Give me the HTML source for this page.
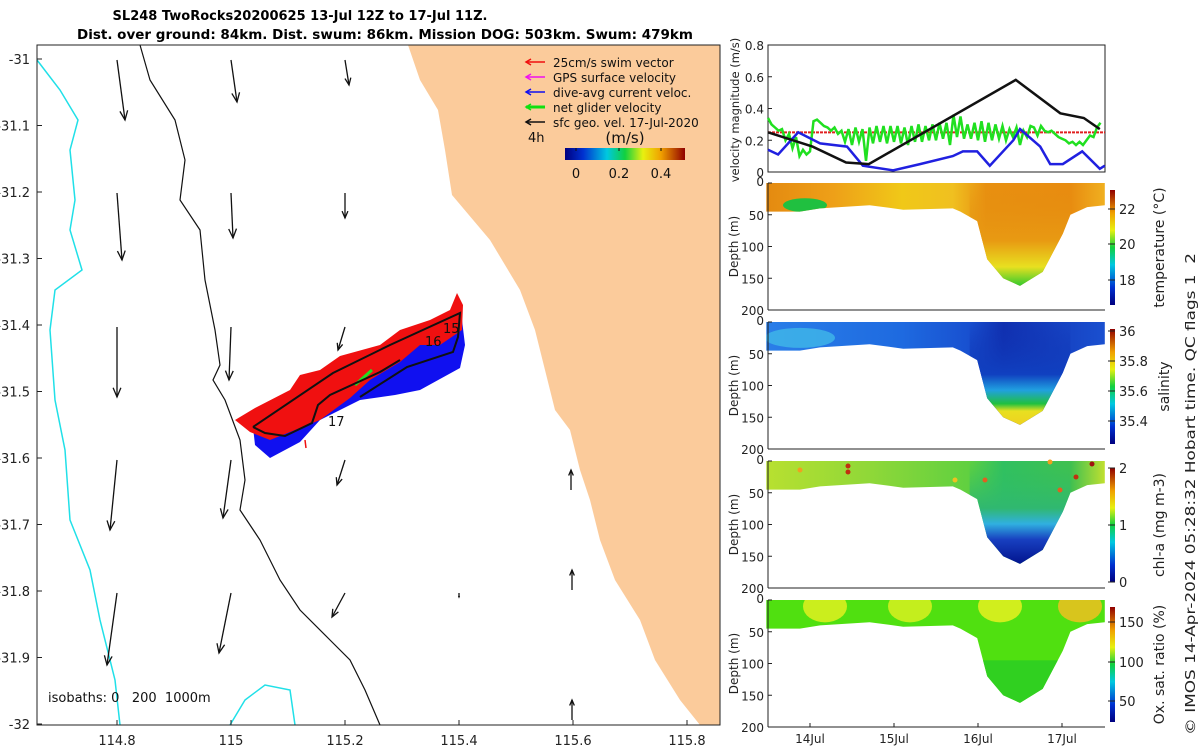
<!DOCTYPE html>
<html><head><meta charset="utf-8"><style>
html,body{margin:0;padding:0;background:#fff;}
svg{display:block;font-family:"DejaVu Sans","Liberation Sans",sans-serif;}
</style></head><body>
<svg id="s" width="1200" height="750" viewBox="0 0 1200 750" xmlns="http://www.w3.org/2000/svg">
<defs>
<linearGradient id="jet" x1="0" x2="1" y1="0" y2="0">
<stop offset="0" stop-color="#00007f"/><stop offset="0.15" stop-color="#0030d0"/><stop offset="0.35" stop-color="#00c8e0"/><stop offset="0.5" stop-color="#10d040"/><stop offset="0.65" stop-color="#e8f010"/><stop offset="0.8" stop-color="#f0a000"/><stop offset="1" stop-color="#900000"/></linearGradient>
<linearGradient id="jetv" x1="0" x2="0" y1="1" y2="0">
<stop offset="0" stop-color="#00007f"/><stop offset="0.15" stop-color="#0030d0"/><stop offset="0.35" stop-color="#00c8e0"/><stop offset="0.5" stop-color="#10d040"/><stop offset="0.65" stop-color="#e8f010"/><stop offset="0.8" stop-color="#f0a000"/><stop offset="1" stop-color="#900000"/></linearGradient>
<linearGradient id="tBand" x1="0" x2="1"><stop offset="0" stop-color="#e48a10"/><stop offset="0.2" stop-color="#eea018"/><stop offset="0.4" stop-color="#f0c818"/><stop offset="0.55" stop-color="#f0c020"/><stop offset="0.65" stop-color="#e89010"/><stop offset="0.9" stop-color="#e88c10"/><stop offset="1" stop-color="#f0b020"/></linearGradient>
<linearGradient id="tTr" x1="0" x2="0" y1="0" y2="1"><stop offset="0" stop-color="#e48a10" stop-opacity="0"/><stop offset="0.55" stop-color="#e89a12"/><stop offset="0.8" stop-color="#e8e020"/><stop offset="1" stop-color="#20c830"/></linearGradient>
<linearGradient id="sBand" x1="0" x2="1"><stop offset="0" stop-color="#2a7ee8"/><stop offset="0.4" stop-color="#1e6ae0"/><stop offset="0.6" stop-color="#1850d0"/><stop offset="0.7" stop-color="#1030b0"/><stop offset="1" stop-color="#1a50d0"/></linearGradient>
<linearGradient id="sTr" x1="0" x2="0" y1="0" y2="1"><stop offset="0" stop-color="#1030b0" stop-opacity="0"/><stop offset="0.5" stop-color="#1040c0"/><stop offset="0.65" stop-color="#20a0e0"/><stop offset="0.78" stop-color="#20c040"/><stop offset="0.85" stop-color="#e8e020"/><stop offset="1" stop-color="#f0d020"/></linearGradient>
<linearGradient id="cBand" x1="0" x2="1"><stop offset="0" stop-color="#b8e030"/><stop offset="0.3" stop-color="#90d838"/><stop offset="0.6" stop-color="#60d040"/><stop offset="0.7" stop-color="#30c060"/><stop offset="0.9" stop-color="#40c050"/><stop offset="1" stop-color="#c0e030"/></linearGradient>
<linearGradient id="cTr" x1="0" x2="0" y1="0" y2="1"><stop offset="0" stop-color="#30c060" stop-opacity="0"/><stop offset="0.45" stop-color="#30b870"/><stop offset="0.6" stop-color="#30b0e0"/><stop offset="0.75" stop-color="#1840c0"/><stop offset="1" stop-color="#00108a"/></linearGradient>
</defs>
<g id="map"></g>
<g id="vel"></g>
<g id="sec"></g>
<text x="300" y="20" text-anchor="middle" font-size="13" font-weight="bold">SL248 TwoRocks20200625 13-Jul 12Z to 17-Jul 11Z.</text>
<text x="77" y="39" font-size="13" font-weight="bold" textLength="616" lengthAdjust="spacingAndGlyphs">Dist. over ground: 84km. Dist. swum: 86km. Mission DOG: 503km. Swum: 479km</text>
<text transform="translate(1195,735) rotate(-90)" font-size="13" fill="#222" textLength="482" lengthAdjust="spacingAndGlyphs" style="white-space:pre">© IMOS 14-Apr-2024 05:28:32 Hobart time. QC flags 1  2</text>
</svg>
<script>
// ---- data ----
const velBlackDays=[13.5,14.03,14.43,14.7,16.45,16.98,17.26,17.45];
const velBlack=[0.25,0.16,0.06,0.05,0.58,0.37,0.34,0.27];
const velBlueDays=[13.5,13.62,13.86,14.12,14.44,14.63,14.99,15.31,15.7,15.82,15.99,16.14,16.42,16.5,16.74,16.86,17.01,17.24,17.45,17.51];
const velBlue=[0.14,0.11,0.25,0.18,0.16,0.04,0.01,0.05,0.1,0.13,0.13,0.04,0.2,0.27,0.16,0.05,0.05,0.13,0.02,0.04];
const velGreen=[0.34,0.30,0.28,0.26,0.27,0.20,0.24,0.15,0.22,0.10,0.14,0.11,0.13,
0.32,0.33,0.31,0.29,0.28,0.26,0.28,0.24,
0.26,0.19,0.27,0.17,0.28,0.19,0.27,0.07,0.28,0.18,0.29,0.19,0.29,0.18,0.29,0.19,0.29,0.18,0.28,0.17,0.29,0.19,0.30,0.19,0.29,0.20,0.30,0.20,0.31,0.21,0.31,0.17,0.36,0.22,0.35,0.21,
0.30,0.21,0.31,0.20,0.32,0.19,0.31,0.20,0.30,0.21,0.29,0.20,0.27,0.22,0.28,0.17,0.26,0.22,0.29,
0.28,0.23,0.29,0.26,0.25,0.26,0.24,0.22,0.21,0.20,0.18,0.19,0.17,0.19,0.17,0.20,0.23,0.22,0.28,0.31];
const swimSpeed=0.25;
const velTicks=[0,0.2,0.4,0.6,0.8];
const dayTicks=[14,15,16,17];
const dayLabels=["14Jul","15Jul","16Jul","17Jul"];
const depthTicks=[0,50,100,150,200];
const profDays=[13.48,13.88,14.12,14.71,15.11,15.7,15.79,15.99,16.11,16.3,16.5,16.77,17.01,17.1,17.3,17.51];
const profDepth=[45,45,40,35,42,40,45,60,120,150,162,140,80,50,38,35];
const lonTicks=[114.8,115,115.2,115.4,115.6,115.8];
const latTicks=[-31,-31.1,-31.2,-31.3,-31.4,-31.5,-31.6,-31.7,-31.8,-31.9,-32];

const NS="http://www.w3.org/2000/svg";
function mk(p,tag,at,txt){const e=document.createElementNS(NS,tag);for(const k in at)e.setAttribute(k,at[k]);if(txt!==undefined)e.textContent=txt;p.appendChild(e);return e;}
const X0=768,X1=1105;
const dx=d=>810+(d-14)*84;

// ---- velocity panel ----
const vel=document.getElementById('vel');
const vy=v=>172-v*(127/0.8);
let r=mk(vel,'rect',{x:X0,y:45,width:X1-X0,height:127,fill:'#fff',stroke:'#222','stroke-width':1});


velTicks.forEach(v=>{
  let t=mk(vel,'text',{x:X0-4,y:vy(v)+5,'text-anchor':'end','font-size':12,fill:'#222'},String(v));
  
  
  mk(vel,'line',{x1:X0,x2:X0+4,y1:vy(v),y2:vy(v),stroke:'#222'});
});
let vt=mk(vel,'text',{transform:'translate(739,110) rotate(-90)','text-anchor':'middle','font-size':11.5,fill:'#222'},'velocity magnitude (m/s)');


let rl=mk(vel,'line',{x1:X0,x2:X1,y1:vy(swimSpeed),y2:vy(swimSpeed),stroke:'#e02020','stroke-width':2,'stroke-dasharray':'3 1'});


function pl(days,vals,col,name,w){
  const pts=days.map((d,i)=>dx(d).toFixed(1)+','+vy(vals[i]).toFixed(1)).join(' ');
  const e=mk(vel,'polyline',{points:pts,fill:'none',stroke:col,'stroke-width':w});
  
  
}
const greenDays=velGreen.map((v,i)=>13.5+i/24);
pl(greenDays,velGreen,'#20e020','net-glider-velocity-line',2.5);
pl(velBlueDays,velBlue,'#2020e0','dive-avg-current-line',2.5);
pl(velBlackDays,velBlack,'#111','sfc-geo-velocity-line',2.5);

// ---- sections ----
const sec=document.getElementById('sec');
const panels=[
 {top:183,band:'tBand',tr:'tTr',name:'temperature',label:'temperature (°C)',cb:[190,305],ticks:[['22',209],['20',244],['18',280]]},
 {top:322,band:'sBand',tr:'sTr',name:'salinity',label:'salinity',cb:[329,444],ticks:[['36',331],['35.8',361],['35.6',391],['35.4',421]]},
 {top:461,band:'cBand',tr:'cTr',name:'chl-a',label:'chl-a (mg m-3)',cb:[468,582],ticks:[['2',468],['1',525],['0',582]]},
 {top:600,band:'#50e010',tr:null,name:'oxygen',label:'Ox. sat. ratio (%)',cb:[607,722],ticks:[['150',622],['100',662],['50',701]]}
];
panels.forEach((p,pi)=>{
  const H=127, dy=d=>p.top+d*H/200;
  const g=mk(sec,'g',{});
  
  
  const pts=[[dx(profDays[0]),dy(0)],[dx(profDays[profDays.length-1]),dy(0)]];
  for(let i=profDays.length-1;i>=0;i--)pts.push([dx(profDays[i]),dy(profDepth[i])]);
  const d=pts.map(q=>q[0].toFixed(1)+','+q[1].toFixed(1)).join(' ');
  const fill=p.band.startsWith('#')?p.band:'url(#'+p.band+')';
  let sh=mk(g,'polygon',{points:d,fill:fill});
  
  
  const cid='clip'+pi;
  mk(mk(g,'clipPath',{id:cid}),'polygon',{points:d});
  if(p.tr){mk(g,'rect',{x:dx(15.9),y:dy(0),width:dx(17.1)-dx(15.9),height:dy(165)-dy(0),fill:'url(#'+p.tr+')','clip-path':'url(#'+cid+')'});}
  if(pi==0){mk(g,'ellipse',{cx:805,cy:dy(35),rx:22,ry:7,fill:'#20c040','clip-path':'url(#'+cid+')'});}
  if(pi==1){mk(g,'ellipse',{cx:800,cy:dy(25),rx:35,ry:10,fill:'#40b8e8',opacity:0.8,'clip-path':'url(#'+cid+')'});}
  if(pi==3){
    [[825,'#e0f020'],[910,'#d8f020'],[1000,'#e8f020'],[1080,'#f0c020']].forEach(a=>{
      mk(g,'ellipse',{cx:a[0],cy:dy(10),rx:22,ry:16,fill:a[1],opacity:0.85,'clip-path':'url(#'+cid+')'});});
    mk(g,'rect',{x:dx(16),y:dy(95),width:90,height:80,fill:'#30d020','clip-path':'url(#'+cid+')'});
  }
  mk(g,'line',{x1:X0,x2:X0,y1:p.top,y2:p.top+H,stroke:'#222'});
  mk(g,'line',{x1:X0,x2:X1,y1:p.top+H,y2:p.top+H,stroke:'#222'});
  depthTicks.forEach(t=>{
    let e=mk(g,'text',{x:X0-4,y:dy(t)+(t==0?3:5),'text-anchor':'end','font-size':12,fill:'#222'},String(t));
    
    
    mk(g,'line',{x1:X0,x2:X0+4,y1:dy(t),y2:dy(t),stroke:'#222'});
  });
  let yt=mk(g,'text',{transform:'translate(738,'+(p.top+H/2)+') rotate(-90)','text-anchor':'middle','font-size':12,fill:'#222'},'Depth (m)');
  
  
  let cb=mk(g,'rect',{x:1110,y:p.cb[0],width:5,height:p.cb[1]-p.cb[0],fill:'url(#jetv)'});
  
  
  p.ticks.forEach(t=>{mk(g,'line',{x1:1108,x2:1115,y1:t[1],y2:t[1],stroke:'#222'});
    let e=mk(g,'text',{x:1119,y:t[1]+5,'font-size':13,fill:'#222'},t[0]);
    
    });
  let cl=mk(g,'text',{transform:'translate('+(pi==1?1169:1164)+','+((p.cb[0]+p.cb[1])/2)+') rotate(-90)','text-anchor':'middle','font-size':14,fill:'#222'},p.label);
  
  
});
[[848,466,'#c03010'],[848,472,'#c03010'],[1092,464,'#a01010'],[1076,477,'#c03010'],[985,480,'#e06020'],[1060,490,'#e06020'],[800,470,'#f0a020'],[1050,462,'#f0a020'],[955,480,'#f0c020']].forEach(c=>{
  const e=mk(sec,'circle',{cx:c[0],cy:c[1],r:2.5,fill:c[2]});
  
  
});
dayTicks.forEach((d,i)=>{
  mk(sec,'line',{x1:dx(d),x2:dx(d),y1:727,y2:723,stroke:'#222'});
  let e=mk(sec,'text',{x:dx(d),y:743,'text-anchor':'middle','font-size':12,fill:'#222'},dayLabels[i]);
  
  
});

// ---- map ----
const map=document.getElementById('map');
const lx=l=>117+(l-114.8)*570, ly=l=>59+(-31-l)*665;
mk(map,'rect',{x:37,y:45,width:683,height:680,fill:'#fff'});
let land=mk(map,'polygon',{points:'408,45 420,80 438,110 445,150 452,195 490,240 520,290 535,330 545,370 555,410 570,430 580,470 590,500 600,540 615,580 640,620 655,660 680,700 700,725 720,725 720,45',fill:'#fbcb9b'});


let cst=mk(map,'polyline',{points:'140,45 150,80 175,120 185,160 180,200 200,230 205,280 215,330 220,365 213,380 225,400 240,440 245,480 240,510 260,540 280,580 300,610 330,640 350,660 365,690 380,725',fill:'none',stroke:'#111','stroke-width':1.2});


let iso=mk(map,'polyline',{points:'37,60 60,90 78,120 70,150 75,200 70,230 82,270 55,290 50,330 55,400 65,450 70,520 90,570 100,620 115,680 120,725',fill:'none',stroke:'#20e0e8','stroke-width':1.5});


mk(map,'polyline',{points:'230,725 245,700 265,685 290,690 295,725',fill:'none',stroke:'#20e0e8','stroke-width':1.5});
let blue=mk(map,'polygon',{points:'253,427 255,445 270,458 300,442 320,420 360,400 395,395 420,390 460,368 465,345 462,320 440,330 400,350 350,380 310,395 280,420',fill:'#1010f0'});


let red=mk(map,'polygon',{points:'235,420 255,408 290,390 300,375 320,370 340,356 380,345 400,330 430,320 450,310 457,293 463,305 462,330 440,345 420,345 400,362 370,380 350,398 320,420 300,428 270,440 250,432',fill:'#f01010'});


mk(map,'line',{x1:305,y1:440,x2:306,y2:448,stroke:'#f01010','stroke-width':1.5});
mk(map,'line',{x1:355,y1:385,x2:372,y2:370,stroke:'#20e020','stroke-width':3});
let trk=mk(map,'polyline',{points:'253,427 333,373 390,345 460,313 458,337 453,352 407,367 360,397',fill:'none',stroke:'#111','stroke-width':2});


mk(map,'polyline',{points:'253,427 265,433 285,436 312,423 318,405 330,395 380,372 400,360',fill:'none',stroke:'#111','stroke-width':2});
[['17',328,426],['16',425,346],['15',443,333]].forEach(t=>{let e=mk(map,'text',{x:t[1],y:t[2],'font-size':13,fill:'#111'},t[0]);
  
  });
const arrows=[[117,60,125,120],[117,193,122,260],[117,327,117,397],[117,460,110,530],[117,593,107,665],
[231,60,237,102],[231,193,233,238],[231,327,229,380],[231,460,223,518],[231,593,219,653],
[345,60,349,85],[345,193,345,218],[345,327,338,350],[345,460,337,485],[345,593,332,617],
[571,490,571,470],[572,590,572,570],[572,720,572,700],[459,593,459,597]];
arrows.forEach(a=>{
  const g=mk(map,'g',{});
  
  
  mk(g,'line',{x1:a[0],y1:a[1],x2:a[2],y2:a[3],stroke:'#111','stroke-width':1.3});
  const ang=Math.atan2(a[3]-a[1],a[2]-a[0]),L=Math.hypot(a[3]-a[1],a[2]-a[0]),h=Math.min(10,L*0.3);
  const p1=[a[2]-h*Math.cos(ang-0.4),a[3]-h*Math.sin(ang-0.4)],p2=[a[2]-h*Math.cos(ang+0.4),a[3]-h*Math.sin(ang+0.4)];
  mk(g,'polyline',{points:p1.join(',')+' '+a[2]+','+a[3]+' '+p2.join(','),fill:'none',stroke:'#111','stroke-width':1.3});
});
const leg=[['#f01010','25cm/s swim vector'],['#f010f0','GPS surface velocity'],['#1010f0','dive-avg current veloc.'],['#10e010','net glider velocity'],['#111','sfc geo. vel. 17-Jul-2020']];
leg.forEach((l,i)=>{
  const y=62+i*15;
  const g=mk(map,'g',{});
  
  
  mk(g,'line',{x1:526,x2:545,y1:y,y2:y,stroke:l[0],'stroke-width':i==3?3:1.5});
  mk(g,'polyline',{points:'531,'+(y-3)+' 526,'+y+' 531,'+(y+3),fill:'none',stroke:l[0],'stroke-width':1.5});
  mk(g,'text',{x:553,y:y+5,'font-size':12,fill:'#111'},l[1]);
});
let t4=mk(map,'text',{x:528,y:142,'font-size':13,fill:'#111'},'4h');


let ms=mk(map,'text',{x:625,y:143,'text-anchor':'middle','font-size':15,fill:'#111'},'(m/s)');


let lcb=mk(map,'rect',{x:565,y:148,width:120,height:12,fill:'url(#jet)'});


[['0',576],['0.2',619],['0.4',661]].forEach(t=>{mk(map,'line',{x1:t[1],x2:t[1],y1:148,y2:151,stroke:'#111'});
  let e=mk(map,'text',{x:t[1],y:178,'text-anchor':'middle','font-size':13,fill:'#111'},t[0]);
  
  });
let isl=mk(map,'text',{x:48,y:702,'font-size':13,fill:'#111',style:'white-space:pre'},'isobaths: 0   200  1000m');


mk(map,'rect',{x:37,y:45,width:683,height:680,fill:'none',stroke:'#222'});
lonTicks.forEach(l=>{
  mk(map,'line',{x1:lx(l),x2:lx(l),y1:725,y2:720,stroke:'#222'});
  let e=mk(map,'text',{x:lx(l),y:745,'text-anchor':'middle','font-size':13,fill:'#222'},String(l));
  
  
});
latTicks.forEach(l=>{
  mk(map,'line',{x1:37,x2:42,y1:ly(l),y2:ly(l),stroke:'#222'});
  let e=mk(map,'text',{x:30,y:ly(l)+5,'text-anchor':'end','font-size':13,fill:'#222'},String(l));
  
  
});
</script>
</body></html>
